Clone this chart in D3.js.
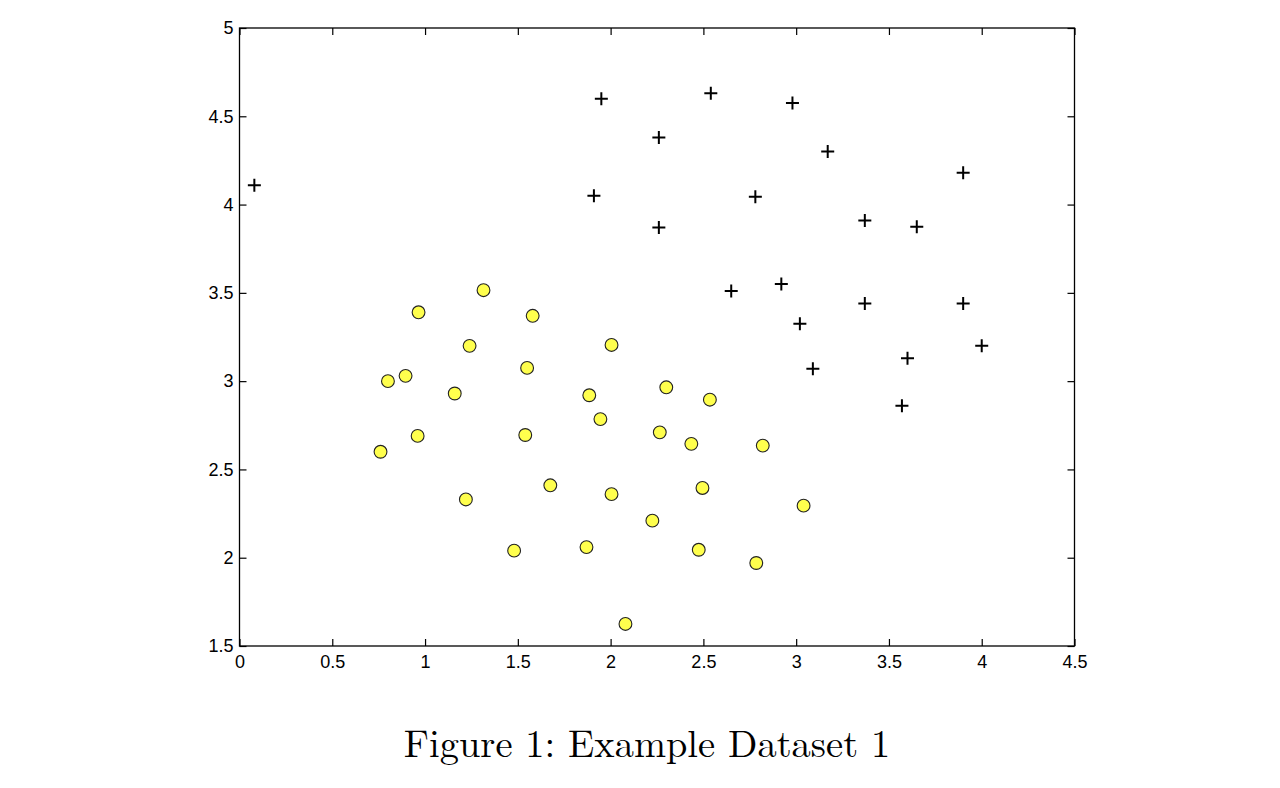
<!DOCTYPE html>
<html>
<head>
<meta charset="utf-8">
<script src="https://cdn.jsdelivr.net/npm/d3@7"></script>
<style>
  html, body { margin: 0; padding: 0; background: #fff; }
</style>
</head>
<body>
<div id="chart"></div>
<script>
// positive examples (+)
const posX = [0.08, 1.95, 2.54, 2.26, 2.98, 3.17, 1.91, 2.78, 3.90, 2.26, 3.37,
              3.65, 2.65, 2.92, 3.37, 3.90, 3.02, 4.00, 3.60, 3.09, 3.57];
const posY = [4.11, 4.60, 4.63, 4.38, 4.575, 4.30, 4.05, 4.045, 4.18, 3.87, 3.91,
              3.875, 3.51, 3.55, 3.44, 3.44, 3.325, 3.20, 3.13, 3.07, 2.86];

// negative examples (o)
const negX = [0.965, 1.315, 1.58, 0.80, 0.895, 1.24, 1.16, 1.55, 2.005, 0.96,
              0.76, 1.54, 1.885, 1.945, 2.30, 2.535, 2.265, 2.435, 2.82, 1.22,
              1.675, 2.005, 2.495, 3.04, 1.48, 1.87, 2.225, 2.475, 2.785, 2.08];
const negY = [3.39, 3.515, 3.37, 3.00, 3.03, 3.20, 2.93, 3.075, 3.205, 2.69,
              2.60, 2.695, 2.92, 2.785, 2.965, 2.895, 2.71, 2.645, 2.635, 2.33,
              2.41, 2.36, 2.395, 2.295, 2.04, 2.06, 2.21, 2.045, 1.97, 1.625];

const xTicks = [0, 0.5, 1, 1.5, 2, 2.5, 3, 3.5, 4, 4.5];
const yTicks = [1.5, 2, 2.5, 3, 3.5, 4, 4.5, 5];

const W = 1280, H = 788;
const M = { TOP: 28, LEFT: 239.5, RIGHT: 1280 - 1074.5, BOTTOM: 788 - 646 };
const iw = W - M.LEFT - M.RIGHT, ih = H - M.TOP - M.BOTTOM;

const svg = d3.select('#chart').append('svg')
    .attr('width', W)
    .attr('height', H);

const g = svg.append('g')
    .attr('transform', `translate(${M.LEFT}, ${M.TOP})`);

const x = d3.scaleLinear().domain([0, 4.5]).range([0, iw]);
const y = d3.scaleLinear().domain([1.5, 5]).range([ih, 0]);

const fmt = d => String(d);
const TK = 7;

// axes with inward ticks on all four sides
const styleAxis = (sel, hideText) => {
    sel.select('.domain').remove();
    sel.selectAll('.tick line').attr('stroke', '#000').attr('stroke-width', 1.2);
    sel.selectAll('.tick text')
        .attr('fill', '#000')
        .style('font-family', 'Liberation Sans, Arial, sans-serif')
        .style('font-size', '18px');
    if (hideText) sel.selectAll('.tick text').remove();
};

g.append('g')
    .attr('transform', `translate(0, ${ih})`)
    .call(d3.axisBottom(x).tickValues(xTicks).tickFormat(fmt).tickSizeInner(-TK).tickSizeOuter(0).tickPadding(9))
    .call(s => styleAxis(s, false));

g.append('g')
    .call(d3.axisTop(x).tickValues(xTicks).tickSizeInner(-TK).tickSizeOuter(0))
    .call(s => styleAxis(s, true));

g.append('g')
    .call(d3.axisLeft(y).tickValues(yTicks).tickFormat(fmt).tickSizeInner(-TK).tickSizeOuter(0).tickPadding(6))
    .call(s => styleAxis(s, false));

g.append('g')
    .attr('transform', `translate(${iw}, 0)`)
    .call(d3.axisRight(y).tickValues(yTicks).tickSizeInner(-TK).tickSizeOuter(0))
    .call(s => styleAxis(s, true));

// box
g.append('rect')
    .attr('x', 0).attr('y', 0)
    .attr('width', iw).attr('height', ih)
    .attr('fill', 'none')
    .attr('stroke', '#000')
    .attr('stroke-width', 1.3);

// crosses
const pos = posX.map((v, i) => ({ x: v, y: posY[i] }));
const cs = 6.5;
g.append('g').selectAll('path')
    .data(pos)
    .join('path')
    .attr('d', d => {
        const px = x(d.x), py = y(d.y);
        return `M${px - cs},${py}H${px + cs}M${px},${py - cs}V${py + cs}`;
    })
    .attr('stroke', '#000')
    .attr('stroke-width', 2)
    .attr('fill', 'none');

// circles
const neg = negX.map((v, i) => ({ x: v, y: negY[i] }));
g.append('g').selectAll('circle')
    .data(neg)
    .join('circle')
    .attr('cx', d => x(d.x))
    .attr('cy', d => y(d.y))
    .attr('r', 6.4)
    .attr('fill', '#ffff4d')
    .attr('stroke', '#222')
    .attr('stroke-width', 1.1);

// caption
svg.append('text')
    .attr('x', 647)
    .attr('y', 757)
    .attr('text-anchor', 'middle')
    .style('font-family', 'Latin Modern Roman, CMU Serif, DejaVu Serif, serif')
    .style('font-size', '38.5px')
    .text('Figure 1: Example Dataset 1');
</script>
</body>
</html>
